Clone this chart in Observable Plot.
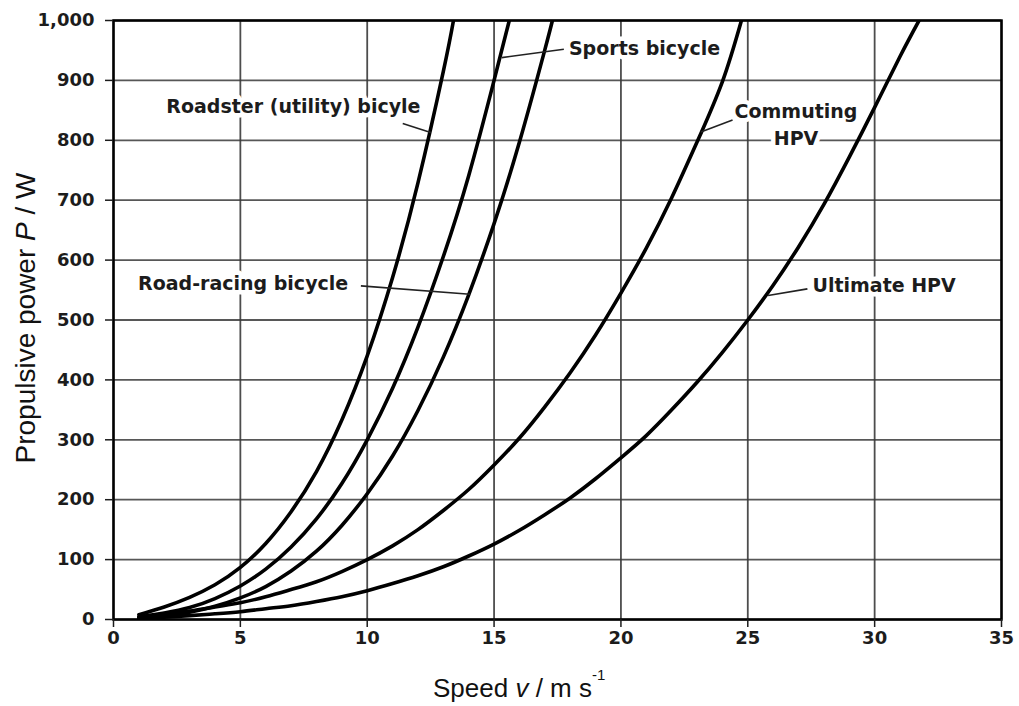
<!DOCTYPE html>
<html><head><meta charset="utf-8">
<script src="https://cdn.jsdelivr.net/npm/d3@7"></script>
<script src="https://cdn.jsdelivr.net/npm/@observablehq/plot@0.6"></script>
<style>body{margin:0;background:#fff}</style>
</head><body><div id="chart"></div>
<script>
// Tick values
const xTicks = [0, 5, 10, 15, 20, 25, 30, 35];
const yTicks = [0, 100, 200, 300, 400, 500, 600, 700, 800, 900, 1000];

// Series (speed in m/s, propulsive power in W)
const roadsterSpeed = [1, 2, 3, 4, 5, 6, 7, 8, 9, 10, 11, 12, 13, 13.4];
const roadsterPower = [8, 21, 37, 58, 87, 127, 180, 247, 333, 440, 571, 729, 915, 1000];

const sportsSpeed = [1, 2, 3, 4, 5, 6, 7, 8, 9, 10, 11, 12, 13, 14, 15, 15.6];
const sportsPower = [4, 11, 20, 35, 56, 84, 121, 168, 227, 300, 386, 488, 606, 741, 900, 1000];

const racingSpeed = [1, 2, 3, 4, 5, 6, 7, 8, 9, 10, 11, 12, 13, 14, 15, 16, 17, 17.3];
const racingPower = [3, 6, 12, 22, 36, 55, 81, 114, 157, 210, 273, 349, 438, 542, 661, 797, 951, 1000];

const commutingSpeed = [1, 2, 3, 4, 5, 6, 7, 8, 9, 10, 11, 12, 13, 14, 15, 16, 17, 18, 19, 20, 21, 22, 23, 24, 24.75];
const commutingPower = [4, 9, 14, 21, 28, 38, 50, 63, 80, 100, 123, 150, 182, 217, 258, 303, 355, 412, 475, 545, 620, 704, 797, 898, 1000];

const ultimateSpeed = [1, 2, 3, 4, 5, 6, 7, 8, 9, 10, 11, 12, 13, 14, 15, 16, 17, 18, 19, 20, 21, 22, 23, 24, 25, 26, 27, 28, 29, 30, 31, 31.75];
const ultimatePower = [2, 4, 6.5, 9.5, 13, 18, 23, 30, 38, 48, 60, 73, 88, 106, 126, 149, 175, 203, 235, 270, 307, 350, 396, 446, 500, 558, 622, 693, 772, 855, 940, 1000];

// Annotations (text and their anchor points in data units)
const labelText   = ["Roadster (utility) bicyle", "Sports bicycle", "Road-racing bicycle", "Commuting", "HPV", "Ultimate HPV"];
const labelSpeed  = [12.1, 17.95, 9.25, 26.9, 26.9, 27.55];
const labelPower  = [855, 952, 560, 848, 803, 557];
const labelAnchor = ["end", "start", "end", "middle", "middle", "start"];

const leaderSpeedA = [11.4, 15.3, 9.75, 23.15, 25.8];
const leaderPowerA = [828, 938, 557, 814, 541];
const leaderSpeedB = [12.5, 17.75, 14.05, 24.4, 27.35];
const leaderPowerB = [813, 952, 543, 834, 552];

// Build tables
const series = [
  {name: "Roadster", speed: roadsterSpeed, power: roadsterPower},
  {name: "Sports", speed: sportsSpeed, power: sportsPower},
  {name: "Road-racing", speed: racingSpeed, power: racingPower},
  {name: "Commuting HPV", speed: commutingSpeed, power: commutingPower},
  {name: "Ultimate HPV", speed: ultimateSpeed, power: ultimatePower}
];
const curveData = series.flatMap(s => s.speed.map((v, i) => ({series: s.name, v, p: s.power[i]})));
const labels = labelText.map((t, i) => ({text: t, v: labelSpeed[i], p: labelPower[i], anchor: labelAnchor[i]}));
const leaders = leaderSpeedA.map((v, i) => ({v1: v, p1: leaderPowerA[i], v2: leaderSpeedB[i], p2: leaderPowerB[i]}));

const textOpts = anchor => ({
  filter: d => d.anchor === anchor,
  x: "v", y: "p", text: "text", textAnchor: anchor,
  fontSize: 19, fontWeight: "bold", fill: "#1c1c1c",
  stroke: "white", strokeWidth: 9, paintOrder: "stroke"
});

const chart = Plot.plot({
  width: 1019, height: 706,
  marginLeft: 113, marginRight: 18, marginTop: 20, marginBottom: 87,
  style: {fontFamily: "'DejaVu Sans', sans-serif", fontWeight: "bold", color: "#1c1c1c", background: "white", overflow: "visible"},
  x: {domain: [0, 35], label: null},
  y: {domain: [0, 1000], label: null},
  marks: [
    Plot.gridX(xTicks, {stroke: "#3a3a3a", strokeOpacity: 0.9, strokeWidth: 1.8}),
    Plot.gridY(yTicks, {stroke: "#3a3a3a", strokeOpacity: 0.85, strokeWidth: 1.8}),
    Plot.text(labels, textOpts("end")),
    Plot.text(labels, textOpts("start")),
    Plot.text(labels, textOpts("middle")),
    Plot.line(curveData, {x: "v", y: "p", z: "series", curve: "natural", stroke: "#000", strokeWidth: 3.6, clip: true}),
    Plot.link(leaders, {x1: "v1", y1: "p1", x2: "v2", y2: "p2", stroke: "#222", strokeWidth: 1.6}),
    Plot.frame({stroke: "#000", strokeWidth: 2.5}),
    Plot.axisX(xTicks, {tickSize: 8, tickPadding: 4, fontSize: 18, label: null, tickFormat: d => String(d), strokeWidth: 1.5}),
    Plot.axisY(yTicks, {tickSize: 8, tickPadding: 11, fontSize: 18, label: null, tickFormat: d3.format(","), strokeWidth: 1.5})
  ]
});
document.getElementById("chart").appendChild(chart);

// Axis titles
const svg = d3.select(chart);
const yt = svg.append("text")
  .attr("transform", "translate(35,318) rotate(-90)")
  .attr("text-anchor", "middle")
  .style("font-family", "'Liberation Sans', Arial, sans-serif")
  .style("font-size", "28px").style("font-weight", "normal").attr("fill", "#111");
yt.append("tspan").text("Propulsive power ");
yt.append("tspan").style("font-style", "italic").text("P");
yt.append("tspan").text(" / W");

const xt = svg.append("text")
  .attr("x", 433).attr("y", 697)
  .attr("text-anchor", "start")
  .style("font-family", "'Liberation Sans', Arial, sans-serif")
  .style("font-size", "26px").style("font-weight", "normal").attr("fill", "#111");
xt.append("tspan").text("Speed ");
xt.append("tspan").style("font-style", "italic").text("v");
xt.append("tspan").text(" / m s");
xt.append("tspan").attr("dy", -17).style("font-size", "15px").text("-1");
</script>
</body></html>
